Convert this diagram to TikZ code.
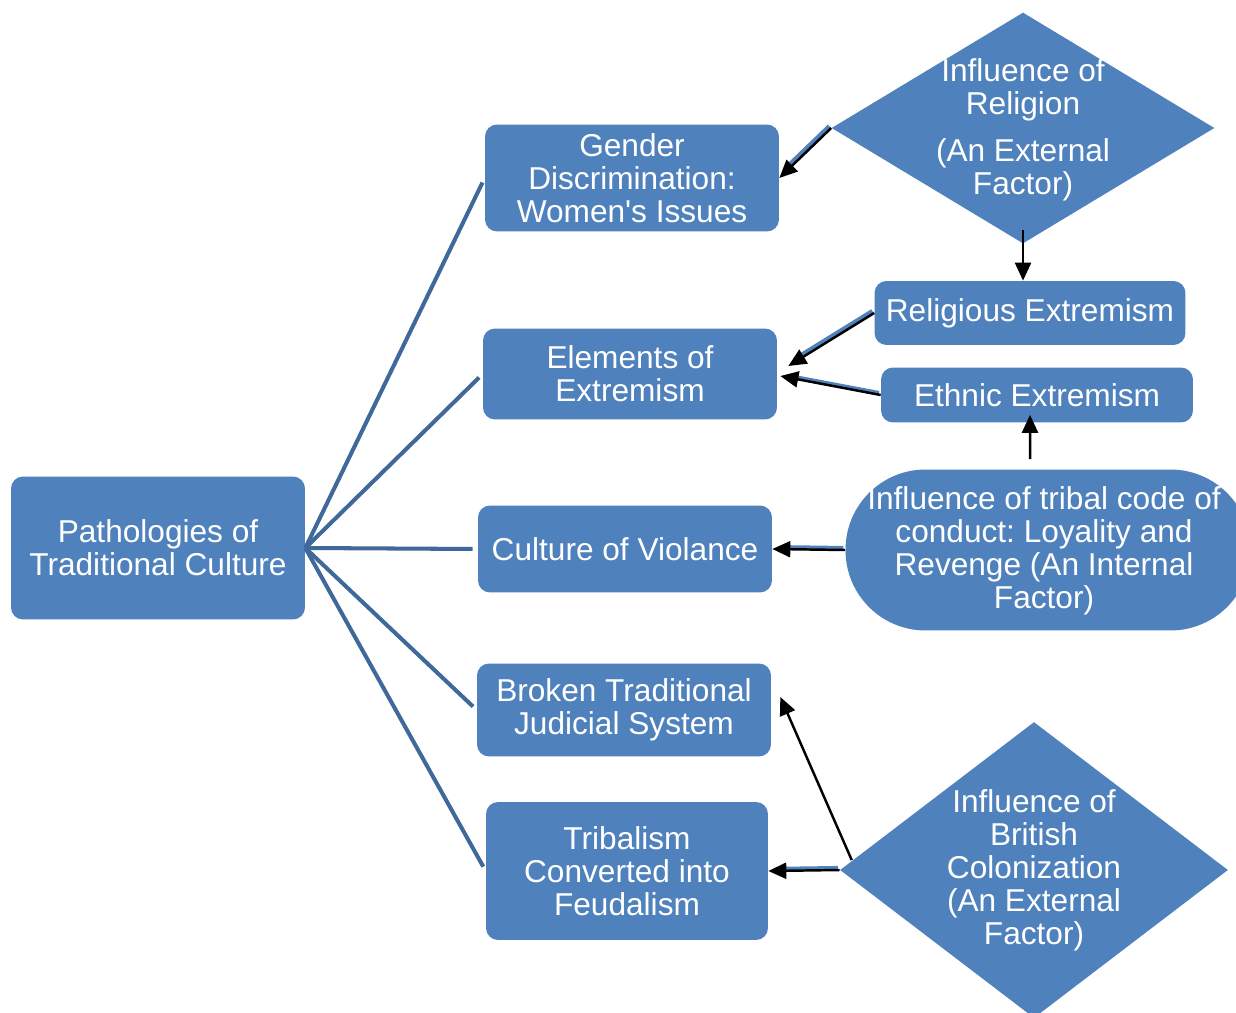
\documentclass[tikz,border=0pt]{standalone}
\usepackage{fontspec}
\setmainfont{Liberation Sans}
\usepackage{xcolor}
\usetikzlibrary{shapes.geometric,arrows.meta}
\definecolor{boxblue}{HTML}{4F81BD}
\definecolor{lineblue}{HTML}{40699B}
\frenchspacing
\tikzset{
  box/.style={rectangle, rounded corners=0.24cm, fill=boxblue, text=white,
    align=center, inner sep=0pt, font=\fontsize{18}{18.8}\selectfont},
  dia/.style={diamond, fill=boxblue, inner sep=0pt},
  diatext/.style={text=white, align=center, font=\fontsize{18}{18.8}\selectfont},
  branch/.style={draw=lineblue, line width=2.3pt, shorten >=0.1cm},
  arr/.style={draw=black, line width=1.4pt, -{Triangle[length=0.36cm,width=0.32cm]}},
  arrs/.style={arr, preaction={draw=boxblue, line width=2.6pt, -, shorten >=0.36cm,
    transform canvas={shift={(-1pt,1pt)}}}}
}
\begin{document}
\begin{tikzpicture}[x=0.02cm,y=-0.02cm]
        \clip (0,0) rectangle (1236,1013);
        %中心节点
        \node[box, minimum width=5.88cm, minimum height=2.86cm] (root) at (158,548) {Pathologies of\\Traditional Culture};
        %中间一列
        \node[box, minimum width=5.88cm, minimum height=2.14cm] (gen) at (632,178) {Gender\\Discrimination:\\Women\textquotesingle s Issues};
        \node[box, minimum width=5.88cm, minimum height=1.82cm] (elem) at (630,374) {Elements of\\Extremism};
        \node[box, minimum width=5.88cm, minimum height=1.74cm] (cult) at (625,549) {Culture of Violance};
        \node[box, minimum width=5.88cm, minimum height=1.86cm] (brk) at (624,710) {Broken Traditional\\Judicial System};
        \node[box, minimum width=5.64cm, minimum height=2.76cm] (trb) at (627,871) {Tribalism\\Converted into\\Feudalism};
        %右边一列
        \node[dia, minimum width=7.66cm, minimum height=4.62cm] (rel) at (1023,128) {};
        \node[diatext] (reltxt) at (1023,130) {Influence of\\Religion\\[0.28cm](An External\\Factor)};
        \node[box, minimum width=6.22cm, minimum height=1.28cm] (relx) at (1030,313) {Religious Extremism};
        \node[box, minimum width=6.24cm, minimum height=1.10cm] (ethx) at (1037,395) {Ethnic Extremism};
        \node[box, rounded corners=1.6cm, minimum width=8.1cm, minimum height=3.22cm] (trib) at (1048,550) {};
        \node[diatext] (tribtxt) at (1044,551) {Influence of tribal code of\\conduct: Loyality and\\Revenge (An Internal\\Factor)};
        \node[dia, minimum width=7.76cm, minimum height=5.92cm] (brit) at (1034,870) {};
        \node[diatext] (brittxt) at (1034,870) {Influence of\\British\\Colonization\\(An External\\Factor)};
        %分支线
        \foreach \n in {gen,elem,cult,brk,trb}
                \draw[branch] (root.east) -- (\n.west);
        %箭头
        \draw[arrs] (rel.west) -- (gen.east);
        \draw[arr] ([yshift=0.28cm]rel.south) -- (rel.south |- relx.north);
        \draw[arrs] (relx.west) -- ([shift={(11,-8)}]elem.east);
        \draw[arrs] (ethx.west) -- ([shift={(3,2)}]elem.east);
        \draw[arr] ([xshift=-0.36cm,yshift=0.2cm]trib.north) -- ([xshift=-0.14cm,yshift=0.16cm]ethx.south);
        \draw[arrs] (trib.west) -- (cult.east);
        \draw[arr] ([shift={(12,-10)}]brit.west) -- ([shift={(9,-13)}]brk.east);
        \draw[arrs] (brit.west) -- (trb.east);
\end{tikzpicture}
\end{document}
